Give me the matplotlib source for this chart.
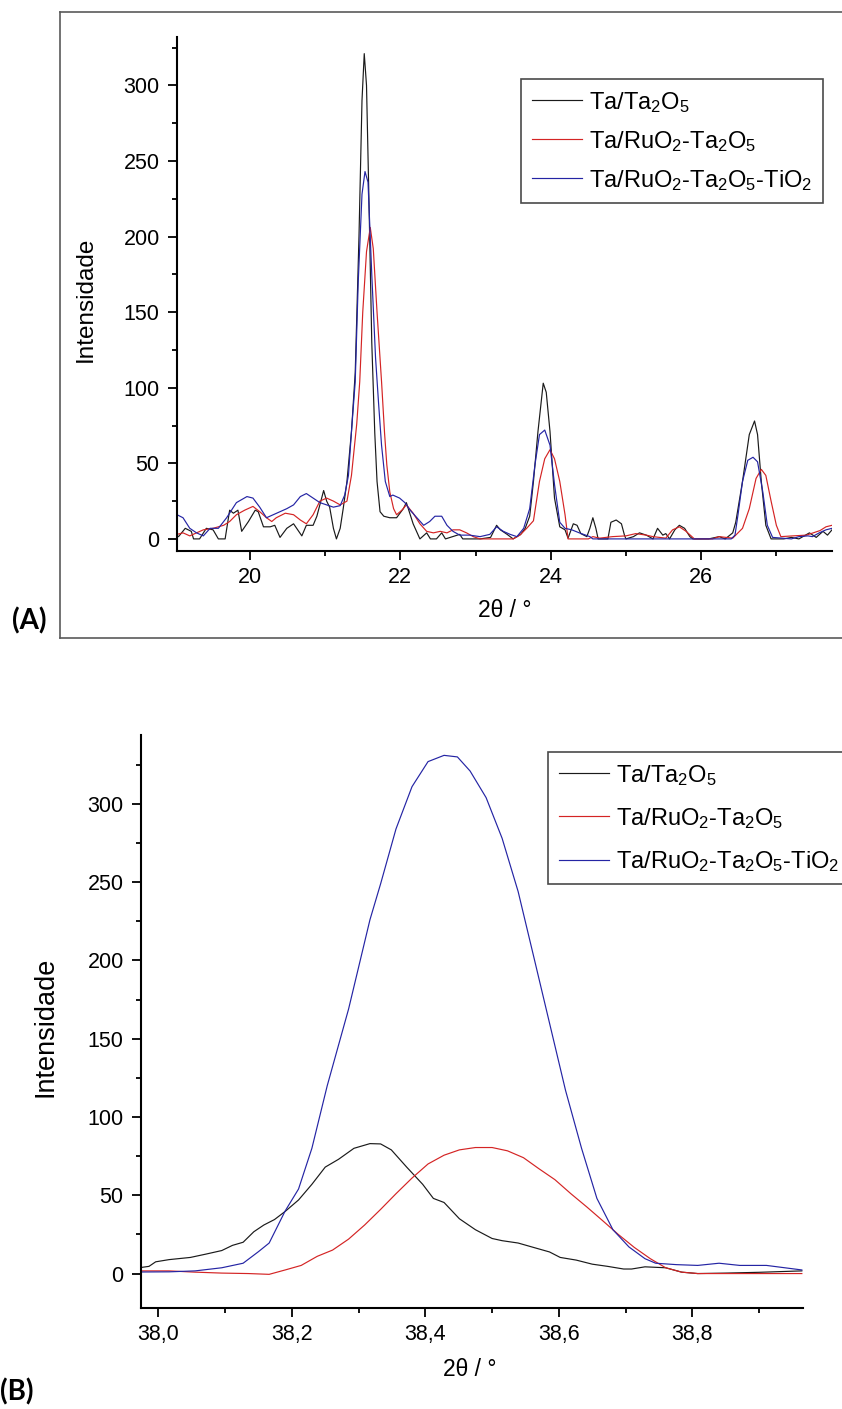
import matplotlib
matplotlib.use("Agg")
import matplotlib.pyplot as plt
from matplotlib.lines import Line2D

# ---------------------------------------------------------------- fonts
BASE = "Liberation Sans"
plt.rcParams["font.family"] = [BASE, "DejaVu Sans"]
plt.rcParams["mathtext.fontset"] = "custom"
plt.rcParams["mathtext.rm"] = BASE
plt.rcParams["mathtext.it"] = BASE + ":italic"
plt.rcParams["mathtext.bf"] = BASE + ":bold"

# ---------------------------------------------------------------- data
series_labels = [
    r"Ta/Ta$_2$O$_5$",
    r"Ta/RuO$_2$-Ta$_2$O$_5$",
    r"Ta/RuO$_2$-Ta$_2$O$_5$-TiO$_2$",
]
series_colors = ["#1a1a1a", "#d42424", "#2424a4"]

# (A) low-angle region
a_ta_x = [19.03, 19.05, 19.14, 19.22, 19.25, 19.33, 19.42, 19.51, 19.58, 19.67,
          19.73, 19.78, 19.84, 19.89, 19.98, 20.07, 20.11, 20.18, 20.27, 20.33,
          20.40, 20.49, 20.58, 20.69, 20.75, 20.84, 20.89, 20.98, 21.02, 21.06,
          21.11, 21.15, 21.20, 21.24, 21.29, 21.35, 21.40, 21.45, 21.49, 21.52,
          21.55, 21.58, 21.62, 21.66, 21.69, 21.73, 21.78, 21.86, 21.95, 22.04,
          22.08, 22.17, 22.26, 22.35, 22.40, 22.48, 22.55, 22.60, 22.79, 22.83,
          23.06, 23.20, 23.28, 23.33, 23.42, 23.50, 23.60, 23.66, 23.72, 23.77,
          23.83, 23.90, 23.94, 23.99, 24.05, 24.12, 24.19, 24.23, 24.30, 24.35,
          24.40, 24.48, 24.52, 24.56, 24.60, 24.63, 24.76, 24.80, 24.87, 24.94,
          24.98, 25.00, 25.10, 25.18, 25.27, 25.36, 25.42, 25.49, 25.53, 25.58,
          25.65, 25.71, 25.78, 25.85, 25.89, 26.10, 26.24, 26.32, 26.42, 26.46,
          26.55, 26.64, 26.71, 26.75, 26.80, 26.86, 26.93, 27.10, 27.20, 27.30,
          27.44, 27.53, 27.62, 27.68, 27.74]
a_ta_y = [2, 1.5, 7, 5, 0, 0, 7, 6, 0, 0,
          19, 17, 19, 5, 11.5, 19, 18, 8, 8, 9,
          1, 7, 10, 2, 9, 9, 15, 32, 25, 21,
          7, 0, 7, 20, 38, 71, 110, 200, 290, 321,
          300, 230, 130, 70, 38, 18, 15, 14, 14, 20,
          24, 10, 0, 4, 0, 0, 4, 0, 3, 0,
          0, 1, 9, 6, 3, 0, 3, 7, 15, 38,
          71, 103, 97, 71, 27, 8, 6, 0.5, 10, 9,
          3.5, 1.5, 7, 14, 7, 0, 0, 11, 12.5, 10,
          2.5, 0, 1.5, 4, 2.5, 0, 7, 2.5, 3.5, 0,
          6, 9, 7, 1.5, 0, 0, 1.5, 0, 4, 11,
          38, 69, 78, 69, 38, 9, 0, 0, 1, 0,
          4, 1, 5, 2.5, 6]

a_ru_x = [19.03, 19.11, 19.20, 19.29, 19.38, 19.51, 19.65, 19.73, 19.82, 19.93,
          20.04, 20.13, 20.22, 20.29, 20.35, 20.47, 20.58, 20.67, 20.75, 20.84,
          20.93, 21.02, 21.11, 21.20, 21.29, 21.35, 21.42, 21.46, 21.50, 21.55,
          21.60, 21.64, 21.69, 21.75, 21.79, 21.82, 21.86, 21.91, 21.95, 22.02,
          22.08, 22.17, 22.26, 22.35, 22.44, 22.53, 22.62, 22.70, 22.79, 22.88,
          22.97, 23.06, 23.50, 23.59, 23.68, 23.77, 23.85, 23.92, 23.99, 24.05,
          24.12, 24.19, 24.23, 24.50, 24.56, 24.65, 24.82, 25.00, 25.13, 25.27,
          25.36, 25.53, 25.62, 25.71, 25.80, 25.91, 26.15, 26.24, 26.42, 26.55,
          26.64, 26.73, 26.80, 26.86, 26.93, 27.00, 27.06, 27.22, 27.40, 27.49,
          27.58, 27.66, 27.74]
a_ru_y = [3, 4, 2, 4, 6, 7, 9, 11.5, 16, 19,
          21.5, 18, 14, 11.5, 14, 17, 16, 12.5, 10, 16,
          25, 27, 25, 22.5, 25, 42, 76, 104, 150, 190,
          206, 192, 150, 104, 70, 49, 31, 20, 16, 19,
          22.5, 17, 10, 5, 4, 5, 4, 6, 6, 4,
          1.5, 0, 0, 2.5, 7, 12, 38, 53, 59, 53,
          38, 16, 0, 0, 1.5, 0.5, 1.5, 2, 3.5, 2.5,
          1.5, 0.5, 6, 8, 5, 0, 0, 1.5, 0.5, 7,
          20, 40, 46, 42, 25, 9, 1.5, 2, 2.5, 4,
          5.5, 8, 9]

a_ti_x = [19.03, 19.11, 19.20, 19.29, 19.38, 19.47, 19.58, 19.69, 19.82, 19.96,
          20.04, 20.13, 20.22, 20.31, 20.40, 20.49, 20.58, 20.67, 20.75, 20.84,
          20.93, 21.02, 21.11, 21.20, 21.26, 21.31, 21.35, 21.40, 21.44, 21.49,
          21.53, 21.57, 21.62, 21.67, 21.71, 21.75, 21.80, 21.86, 21.90, 21.99,
          22.06, 22.13, 22.22, 22.31, 22.39, 22.46, 22.55, 22.62, 22.70, 22.79,
          22.92, 23.06, 23.19, 23.28, 23.37, 23.46, 23.55, 23.64, 23.72, 23.79,
          23.85, 23.92, 23.99, 24.05, 24.12, 24.19, 24.28, 24.38, 24.52, 24.56,
          26.40, 26.45, 26.49, 26.55, 26.62, 26.69, 26.75, 26.82, 26.88, 26.95,
          27.20, 27.30, 27.42, 27.48, 27.57, 27.66, 27.74]
a_ti_y = [16, 14, 7, 4, 2, 7, 7, 14, 24, 28,
          27, 21, 14, 16, 18, 20, 22.5, 28, 30, 27,
          24, 22.5, 21, 22, 29, 42, 71, 104, 170, 228,
          243, 236, 175, 120, 90, 62, 38, 28, 29, 27,
          24, 19, 14, 9, 11.5, 15, 15, 9, 5, 2.5,
          2.5, 1.5, 3, 8, 5, 3, 1.5, 7, 20, 49,
          69, 72, 62, 36, 11, 7, 6, 4, 1.5, 0,
          0, 2.5, 16, 38, 52, 54, 51, 31, 9, 1,
          0, 1.5, 2, 1.5, 4, 6, 7]

a_xticks = [20, 22, 24, 26]
a_xminor = [21, 23, 25, 27]

# (B) high-angle region
b_ta_x = [37.976, 37.986, 37.996, 38.016, 38.048, 38.071, 38.095, 38.111, 38.127,
          38.143, 38.158, 38.174, 38.190, 38.210, 38.230, 38.250, 38.270, 38.293,
          38.317, 38.333, 38.349, 38.372, 38.396, 38.412, 38.428, 38.451, 38.475,
          38.500, 38.515, 38.539, 38.562, 38.586, 38.602, 38.626, 38.650, 38.673,
          38.697, 38.709, 38.729, 38.760, 38.784, 38.808, 38.850, 38.900, 38.964]
b_ta_y = [4, 4.6, 7.5, 8.9, 10.3, 12.4, 14.7, 18, 20,
          26.7, 31, 34.5, 39.7, 47, 57, 68, 73, 80,
          83, 82.8, 79, 68, 57, 48, 45.4, 35, 28,
          22.4, 21, 19.5, 16.7, 13.8, 10.3, 8.6, 6, 4.6,
          2.9, 2.9, 4.3, 3.7, 0.9, 0, 0.3, 0.8, 1.7]

b_ru_x = [37.976, 38.016, 38.055, 38.095, 38.135, 38.166, 38.190, 38.214, 38.238,
          38.261, 38.285, 38.309, 38.333, 38.356, 38.380, 38.404, 38.428, 38.451,
          38.475, 38.500, 38.523, 38.547, 38.570, 38.594, 38.618, 38.642, 38.665,
          38.689, 38.713, 38.737, 38.760, 38.784, 38.808, 38.887, 38.964]
b_ru_y = [1.7, 1.7, 0.9, 0.3, 0, -0.5, 2.3, 5.2, 11,
          15, 22, 31, 41, 51, 61, 70, 75.6, 79,
          80.5, 80.5, 78.4, 74, 67, 60, 51, 42.5, 34,
          25, 16.7, 9.5, 3.7, 0.9, 0, 0, 0]

b_ti_x = [37.976, 38.016, 38.055, 38.095, 38.127, 38.150, 38.166, 38.190, 38.210,
          38.230, 38.253, 38.285, 38.317, 38.333, 38.356, 38.380, 38.404, 38.428,
          38.448, 38.467, 38.491, 38.515, 38.539, 38.562, 38.586, 38.610, 38.634,
          38.657, 38.681, 38.705, 38.729, 38.745, 38.776, 38.808, 38.840, 38.871,
          38.911, 38.964]
b_ti_y = [1, 1.1, 1.7, 3.7, 6.6, 14, 19.5, 40, 54,
          80, 120, 169, 226, 249, 284, 311, 327, 331,
          330, 321, 304, 278, 244, 203, 160, 117, 80,
          48, 28, 17, 9.5, 6.6, 5.7, 5.2, 6.6, 5.2,
          5.2, 2.3]

b_xticks = [38.0, 38.2, 38.4, 38.6, 38.8]
b_xticklabels = ["38,0", "38,2", "38,4", "38,6", "38,8"]
b_xminor = [38.1, 38.3, 38.5, 38.7, 38.9]

yticks = [0, 50, 100, 150, 200, 250, 300]
yminor = [25, 75, 125, 175, 225, 275, 325]

# ---------------------------------------------------------------- figure
W, H = 842, 1409
fig = plt.figure(figsize=(W / 100, H / 100), dpi=100)
fig.patch.set_facecolor("white")


def px_axes(left, top, right, bottom):
    return fig.add_axes([left / W, 1 - bottom / H, (right - left) / W, (bottom - top) / H])


def style_axes(ax, tick_fs):
    for s in ("top", "right"):
        ax.spines[s].set_visible(False)
    for s in ("left", "bottom"):
        ax.spines[s].set_linewidth(1.5)
        ax.spines[s].set_color("black")
    ax.tick_params(which="major", direction="out", length=6.5, width=1.3,
                   labelsize=tick_fs, colors="black")
    ax.tick_params(which="minor", direction="out", length=3.6, width=1.3)
    ax.tick_params(axis="x", which="major", pad=5)
    ax.tick_params(axis="y", which="major", pad=6)
    ax.set_yticks(yticks)
    ax.set_yticks(yminor, minor=True)


def add_legend(ax, lines, x_px, y_px, fs, spacing):
    leg = ax.legend(lines, series_labels, loc="upper left",
                    bbox_to_anchor=(x_px / W, 1 - y_px / H),
                    bbox_transform=fig.transFigure, fontsize=fs,
                    frameon=True, fancybox=False, edgecolor="#4a4a4a",
                    borderpad=0.45, labelspacing=spacing, handlelength=2.15,
                    handletextpad=0.3, borderaxespad=0.0, framealpha=1)
    leg.get_frame().set_linewidth(1.2)
    return leg


# ---- panel (A)
axA = px_axes(177, 37, 832, 551)
la = []
for xs, ys, c in zip((a_ta_x, a_ru_x, a_ti_x), (a_ta_y, a_ru_y, a_ti_y), series_colors):
    la.append(axA.plot(xs, ys, color=c, lw=0.85)[0])
axA.set_xlim(19.03, 27.74)
axA.set_ylim(-8, 332)
style_axes(axA, 15.5)
axA.set_xticks(a_xticks)
axA.set_xticks(a_xminor, minor=True)
axA.set_xlabel("2θ / °", fontsize=16.5)
axA.xaxis.label.set_va("center")
axA.xaxis.set_label_coords(0.5, -0.1148)
axA.set_ylabel("Intensidade", fontsize=17.5)
axA.yaxis.label.set_va("center")
axA.yaxis.set_label_coords(-0.139, 0.49)
add_legend(axA, la, 521, 79, 17, 0.6)

# ---- panel (B)
axB = px_axes(141, 735, 802.5, 1308)
lb = []
for xs, ys, c in zip((b_ta_x, b_ru_x, b_ti_x), (b_ta_y, b_ru_y, b_ti_y), series_colors):
    lb.append(axB.plot(xs, ys, color=c, lw=0.85)[0])
axB.set_xlim(37.974, 38.965)
axB.set_ylim(-22, 344)
style_axes(axB, 15.5)
axB.set_xticks(b_xticks, b_xticklabels)
axB.set_xticks(b_xminor, minor=True)
axB.set_xlabel("2θ / °", fontsize=16.5)
axB.xaxis.label.set_va("center")
axB.xaxis.set_label_coords(0.497, -0.108)
axB.set_ylabel("Intensidade", fontsize=19.5)
axB.yaxis.label.set_va("center")
axB.yaxis.set_label_coords(-0.145, 0.49)
add_legend(axB, lb, 548, 752, 17, 0.77)

# ---- frame around panel (A)
frame_kw = dict(transform=fig.transFigure, color="#5a5a5a", lw=1.2)
fx0, fx1 = 60 / W, 1.0
fy0, fy1 = 1 - 638 / H, 1 - 12 / H
fig.add_artist(Line2D([fx0, fx0], [fy0, fy1], **frame_kw))
fig.add_artist(Line2D([fx0, fx1], [fy1, fy1], **frame_kw))
fig.add_artist(Line2D([fx0, fx1], [fy0, fy0], **frame_kw))

# ---- panel letters
fig.text(29.5 / W, 1 - 621 / H, "(A)", ha="center", va="center",
         fontsize=20, fontweight="bold", family=["Lato", "DejaVu Sans"])
fig.text(17 / W, 1 - 1392 / H, "(B)", ha="center", va="center",
         fontsize=20, fontweight="bold", family=["Lato", "DejaVu Sans"])

fig.savefig("out.png", dpi=100, facecolor="white")
